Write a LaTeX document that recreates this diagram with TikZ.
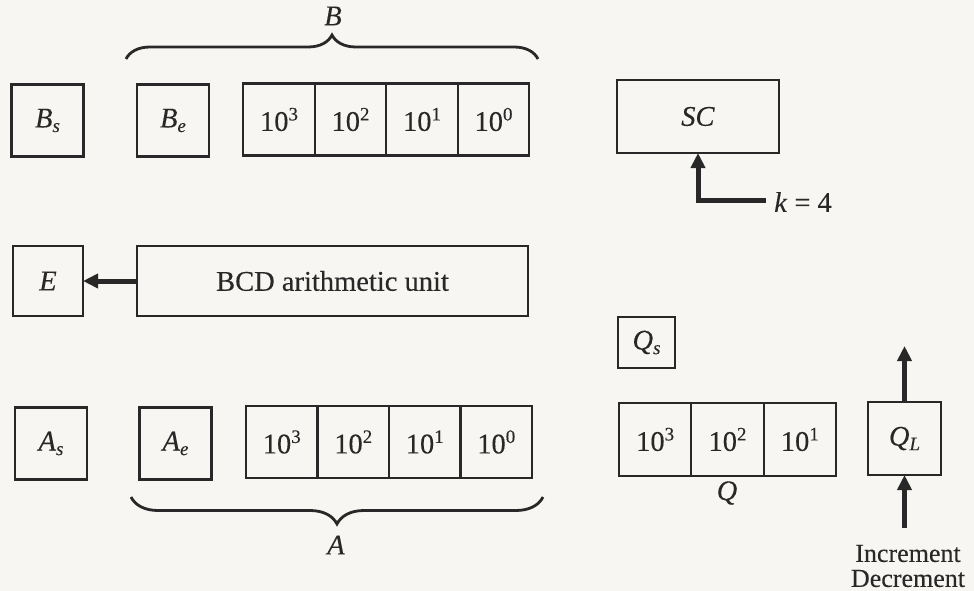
\documentclass[tikz,border=0pt]{standalone}
\usepackage{fontspec}
\setmainfont{Liberation Serif}[UprightFeatures={FakeBold=0.25},ItalicFeatures={FakeBold=0.25}]
\usetikzlibrary{arrows.meta,decorations.pathreplacing}
\definecolor{paper}{RGB}{247,246,242}
\definecolor{ink}{RGB}{40,40,40}
\newcommand\mysub[1]{\raisebox{-0.35ex}{\fontsize{19}{19}\selectfont\itshape #1}}
\newcommand\mysup[1]{\raisebox{0.8ex}{\fontsize{19}{19}\selectfont #1}}
\begin{document}
\begin{tikzpicture}[x=1pt,y=-1pt,
  box/.style={draw=ink, text=ink, line width=2.2pt, inner sep=0pt, outer sep=0pt, font=\fontsize{28.5}{25}\selectfont},
  sq/.style={box, minimum width=72pt, minimum height=72pt},
  cell/.style={box, minimum width=71.5pt, minimum height=72pt},
  qcell/.style={box, minimum width=72.33pt, minimum height=73pt},
  thickarrow/.style={draw=ink, line width=5pt, line join=miter, -{Triangle[length=15pt,width=14pt]}},
  bigbrace/.style={draw=ink, decorate, line width=2.8pt, decoration={brace, amplitude=#1}},
  lbl/.style={text=ink, font=\fontsize{28.5}{25}\selectfont, inner sep=0pt}
]
\fill[paper] (0,0) rectangle (974,591);
\useasboundingbox (0,0) rectangle (974,591);

% Row B
\node[sq] (Bs) at (47.5,120.5) {\textit{B}\mysub{s}};
\node[sq] (Be) at (173,120.5) {\textit{B}\mysub{e}};
\node[cell] (B3) at (279,119.5) {10\mysup{3}};
\node[cell] (B2) at (350.5,119.5) {10\mysup{2}};
\node[cell] (B1) at (422,119.5) {10\mysup{1}};
\node[cell] (B0) at (493.5,119.5) {10\mysup{0}};
\coordinate (Bbl) at (126,59);
\coordinate (Bbr) at (538,59);
\draw[bigbrace=24pt] (Bbl) -- (Bbr);
\node[lbl] (Blbl) at (333,16) {\textit{B}};

% SC
\node[box, minimum width=162pt, minimum height=73pt] (SC) at (698,116.5) {\textit{SC}};
\node[lbl, anchor=west] (k) at (774,202) {\textit{k} = 4};
\coordinate (kin) at (766,200);
\coordinate (kc) at (kin -| SC.south);
\draw[thickarrow] (kin) -- (kc) -- (SC.south);

% Row E
\node[box, minimum width=70pt, minimum height=70pt] (E) at (48,281) {\textit{E}};
\node[box, minimum width=391pt, minimum height=70pt] (BCD) at (332.5,281) {BCD arithmetic unit};
\draw[thickarrow] (BCD.west) -- (E.east);

% Row A
\node[sq] (As) at (51,443.5) {\textit{A}\mysub{s}};
\node[sq] (Ae) at (175.5,443.5) {\textit{A}\mysub{e}};
\node[cell] (A3) at (281.75,442) {10\mysup{3}};
\node[cell] (A2) at (353.25,442) {10\mysup{2}};
\node[cell] (A1) at (424.75,442) {10\mysup{1}};
\node[cell] (A0) at (496.25,442) {10\mysup{0}};
\coordinate (Abr) at (543,497);
\coordinate (Abl) at (131,497);
\draw[bigbrace=27pt] (Abr) -- (Abl);
\node[lbl] (Albl) at (336,545) {\textit{A}};

% Q
\node[box, minimum width=57pt, minimum height=51pt] (Qs) at (646.5,342.5) {\textit{Q}\mysub{s}};
\node[qcell] (Q3) at (655.17,439.5) {10\mysup{3}};
\node[qcell] (Q2) at (727.5,439.5) {10\mysup{2}};
\node[qcell] (Q1) at (799.83,439.5) {10\mysup{1}};
\node[lbl] (Qlbl) at (727,493) {\textit{Q}};
\node[box, minimum width=73pt, minimum height=73pt] (QL) at (904.5,438.5) {\textit{Q}\mysub{L}};
\coordinate (QLout) at (904.5,346);
\draw[thickarrow] (QL.north) -- (QLout);
\node[lbl, align=center, font=\fontsize{26}{25}\selectfont] (inc) at (908,566) {Increment\\Decrement};
\coordinate (QLin) at (904.5,528);
\draw[thickarrow] (QLin) -- (QL.south);
\end{tikzpicture}
\end{document}
